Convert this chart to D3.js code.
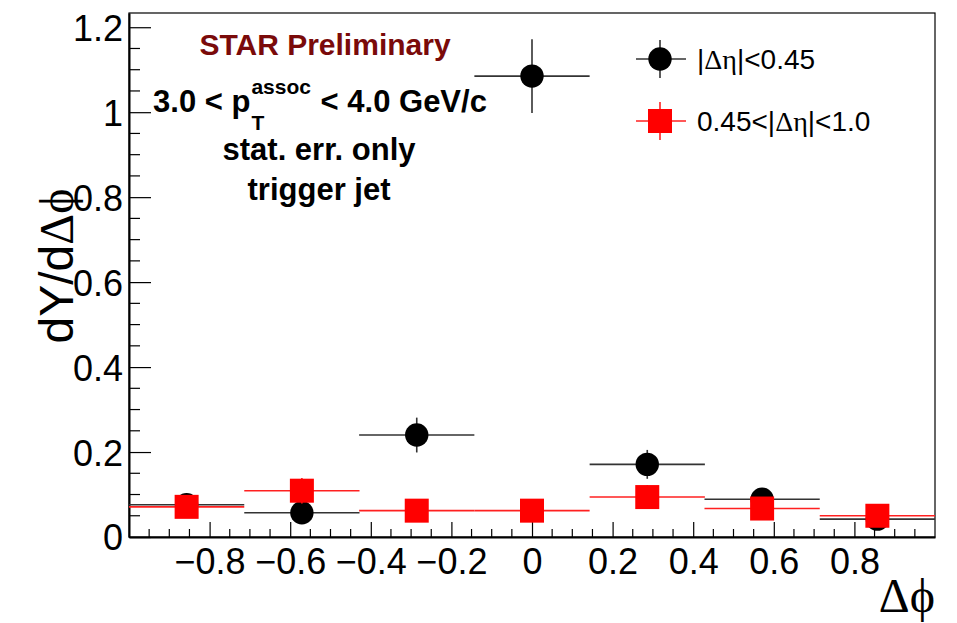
<!DOCTYPE html>
<html>
<head>
<meta charset="utf-8">
<script src="https://cdn.jsdelivr.net/npm/d3@7"></script>
<style>
  html, body { margin: 0; padding: 0; background: #fff; }
  svg { display: block; }
  text { font-family: "Liberation Sans", Arial, Helvetica, sans-serif; }
  .greek { font-family: "Liberation Serif", "DejaVu Serif", serif; }
</style>
</head>
<body>
<div id="chart"></div>
<script>
// ---- data ----
const binCenters = [-0.857, -0.571, -0.286, 0, 0.286, 0.571, 0.857];
const binHalfWidth = 0.143;
const nearVals = [0.076, 0.057, 0.240, 1.085, 0.171, 0.089, 0.042];   // |Δη|<0.45
const nearErrs = [0.012, 0.012, 0.041, 0.087, 0.034, 0.018, 0.014];
const farVals  = [0.071, 0.109, 0.062, 0.062, 0.094, 0.067, 0.050];   // 0.45<|Δη|<1.0
const farErrs  = [0.014, 0.030, 0.016, 0.016, 0.028, 0.018, 0.014];
const xTicks = [-0.8, -0.6, -0.4, -0.2, 0, 0.2, 0.4, 0.6, 0.8];
const yTicks = [0, 0.2, 0.4, 0.6, 0.8, 1, 1.2];
const xDomain = [-1, 1];
const yDomain = [0, 1.2335];

// ---- layout ----
const W = 957, H = 623;
const L = 129, R = 935, T = 13, B = 537;

const svg = d3.select("#chart").append("svg").attr("width", W).attr("height", H);

const x = d3.scaleLinear().domain(xDomain).range([L, R]);
const y = d3.scaleLinear().domain(yDomain).range([B, T]);

// frame
svg.append("rect").attr("x", L).attr("y", T).attr("width", R - L).attr("height", B - T)
  .attr("fill", "none").attr("stroke", "#000").attr("stroke-width", 1.2);

// x axis ticks
const xMinor = d3.range(-0.95, 1.0, 0.05).filter(v => Math.abs(Math.round(v / 0.2) * 0.2 - v) > 1e-6);
svg.append("g").selectAll("line").data(xMinor).join("line")
  .attr("x1", d => x(d)).attr("x2", d => x(d)).attr("y1", B).attr("y2", B - 8)
  .attr("stroke", "#000").attr("stroke-width", 1.2);
const xAxis = d3.axisBottom(x).tickValues(xTicks).tickSizeInner(-15).tickSizeOuter(0)
  .tickFormat(d => d === 0 ? "0" : (d < 0 ? "\u2212" : "") + Math.abs(d).toFixed(1));
const gx = svg.append("g").attr("transform", `translate(0,${B})`).call(xAxis);
gx.select(".domain").attr("stroke", "#000").attr("stroke-width", 2);
gx.selectAll(".tick line").attr("stroke", "#000").attr("stroke-width", 1.2);
gx.selectAll(".tick text").attr("font-size", 36).attr("fill", "#000")
  .attr("font-family", "Liberation Sans, Arial, sans-serif")
  .attr("dy", null).attr("y", 37).attr("dominant-baseline", "auto");

// y axis ticks
const yMinor = d3.range(0.05, 1.2335, 0.05).filter(v => Math.abs(Math.round(v / 0.2) * 0.2 - v) > 1e-6);
svg.append("g").selectAll("line").data(yMinor).join("line")
  .attr("x1", L).attr("x2", L + 11).attr("y1", d => y(d)).attr("y2", d => y(d))
  .attr("stroke", "#000").attr("stroke-width", 1.2);
const yAxis = d3.axisLeft(y).tickValues(yTicks).tickSizeInner(-22).tickSizeOuter(0)
  .tickFormat(d => d === 0 ? "0" : d === 1 ? "1" : d3.format(".1f")(d));
const gy = svg.append("g").attr("transform", `translate(${L},0)`).call(yAxis);
gy.select(".domain").attr("stroke", "#000").attr("stroke-width", 2);
gy.selectAll(".tick line").attr("stroke", "#000").attr("stroke-width", 1.2);
gy.selectAll(".tick text").attr("font-size", 36).attr("fill", "#000")
  .attr("font-family", "Liberation Sans, Arial, sans-serif")
  .attr("x", -6).attr("dy", "0.36em");

// axis titles
const yt = svg.append("text").attr("transform", "translate(73,266) rotate(-90)")
  .attr("text-anchor", "middle").attr("font-size", 48).attr("fill", "#000");
yt.append("tspan").text("dY/d");
yt.append("tspan").attr("class", "greek").text("\u0394\u03D5");

svg.append("text").attr("x", R).attr("y", 612).attr("text-anchor", "end")
  .attr("class", "greek").attr("font-size", 48).attr("fill", "#000").text("\u0394\u03D5");

// ---- data series ----
function drawSeries(vals, errs, color, lineColor, marker) {
  const g = svg.append("g");
  const pts = binCenters.map((c, i) => ({ c, v: vals[i], e: errs[i] }));
  g.selectAll("line.h").data(pts).join("line").attr("class", "h")
    .attr("x1", d => x(d.c - binHalfWidth)).attr("x2", d => x(d.c + binHalfWidth))
    .attr("y1", d => y(d.v)).attr("y2", d => y(d.v))
    .attr("stroke", lineColor).attr("stroke-width", 1.6);
  g.selectAll("line.v").data(pts).join("line").attr("class", "v")
    .attr("x1", d => x(d.c)).attr("x2", d => x(d.c))
    .attr("y1", d => y(d.v - d.e)).attr("y2", d => y(d.v + d.e))
    .attr("stroke", lineColor).attr("stroke-width", 1.6);
  if (marker === "circle") {
    g.selectAll("circle").data(pts).join("circle")
      .attr("cx", d => x(d.c)).attr("cy", d => y(d.v)).attr("r", 11.7).attr("fill", color);
  } else {
    g.selectAll("rect").data(pts).join("rect")
      .attr("x", d => x(d.c) - 12).attr("y", d => y(d.v) - 12)
      .attr("width", 24).attr("height", 24).attr("fill", color);
  }
}
drawSeries(nearVals, nearErrs, "#000", "#333", "circle");
drawSeries(farVals, farErrs, "#ff0000", "#ff2020", "square");

// ---- legend ----
const legend = [
  { label: ["|", "\u0394\u03B7", "|<0.45"], color: "#000", line: "#333", marker: "circle", y: 59 },
  { label: ["0.45<|", "\u0394\u03B7", "|<1.0"], color: "#ff0000", line: "#ff2020", marker: "square", y: 121 }
];
legend.forEach(it => {
  const g = svg.append("g");
  g.append("line").attr("x1", 636).attr("x2", 686).attr("y1", it.y).attr("y2", it.y)
    .attr("stroke", it.line).attr("stroke-width", 1.6);
  g.append("line").attr("x1", 660).attr("x2", 660).attr("y1", it.y - 19).attr("y2", it.y + 19)
    .attr("stroke", it.line).attr("stroke-width", 1.6);
  if (it.marker === "circle") g.append("circle").attr("cx", 660).attr("cy", it.y).attr("r", 11.7).attr("fill", it.color);
  else g.append("rect").attr("x", 648).attr("y", it.y - 12).attr("width", 24).attr("height", 24).attr("fill", it.color);
  const t = g.append("text").attr("x", 697).attr("y", it.y).attr("dy", "0.36em")
    .attr("font-size", 28).attr("fill", "#000");
  t.append("tspan").text(it.label[0]);
  t.append("tspan").attr("class", "greek").text(it.label[1]);
  t.append("tspan").text(it.label[2]);
});

// ---- annotations ----
svg.append("text").attr("x", 325).attr("y", 55).attr("text-anchor", "middle")
  .attr("font-size", 30).attr("font-weight", "bold").attr("fill", "#7a0a0a").text("STAR Preliminary");

// line 2 with sub/superscript, laid out piecewise
const ann = svg.append("g").attr("font-weight", "bold").attr("fill", "#000");
const pA = ann.append("text").attr("font-size", 31).attr("y", 112).text("3.0 < p");
const pSup = ann.append("text").attr("font-size", 21).attr("y", 94).text("assoc");
const pSub = ann.append("text").attr("font-size", 21).attr("y", 130).text("T");
const pB = ann.append("text").attr("font-size", 31).attr("y", 112).text("\u00A0< 4.0 GeV/c");
const wA = pA.node().getComputedTextLength();
const wS = Math.max(pSup.node().getComputedTextLength(), pSub.node().getComputedTextLength());
const wB = pB.node().getComputedTextLength();
const x0 = 319 - (wA + wS + wB) / 2;
pA.attr("x", x0);
pSup.attr("x", x0 + wA + 1);
pSub.attr("x", x0 + wA + 1);
pB.attr("x", x0 + wA + wS + 2);

svg.append("text").attr("x", 319).attr("y", 160).attr("text-anchor", "middle")
  .attr("font-size", 31).attr("font-weight", "bold").attr("fill", "#000").text("stat. err. only");
svg.append("text").attr("x", 319).attr("y", 200).attr("text-anchor", "middle")
  .attr("font-size", 31).attr("font-weight", "bold").attr("fill", "#000").text("trigger jet");
</script>
</body>
</html>
